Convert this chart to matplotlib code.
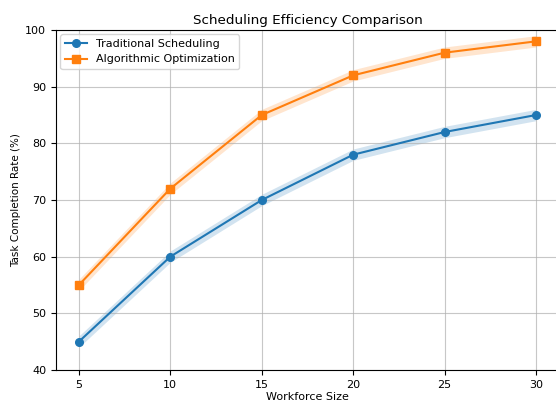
import matplotlib
matplotlib.use("Agg")
import matplotlib.pyplot as plt
import numpy as np

workforce = [5, 10, 15, 20, 25, 30]
traditional = [45, 60, 70, 78, 82, 85]
algorithmic = [55, 72, 85, 92, 96, 98]
band = 1.0

fig = plt.figure(figsize=(5.56, 4.01), dpi=100)
ax = fig.add_axes([56/556, 31/401, (559-56)/556, (370-30)/401])

ax.plot(workforce, traditional, marker='o', color='#1f77b4', label='Traditional Scheduling', markersize=5.5, linewidth=1.5)
ax.fill_between(workforce, np.array(traditional) - band, np.array(traditional) + band, color='#1f77b4', alpha=0.2, linewidth=0)
ax.plot(workforce, algorithmic, marker='s', color='#ff7f0e', label='Algorithmic Optimization', markersize=5.5, linewidth=1.5)
ax.fill_between(workforce, np.array(algorithmic) - band, np.array(algorithmic) + band, color='#ff7f0e', alpha=0.2, linewidth=0)

ax.set_xlim(3.75, 31.25)
ax.set_ylim(40, 100)
ax.set_xticks(workforce)
ax.set_title('Scheduling Efficiency Comparison', fontsize=9.7, pad=4)
ax.set_xlabel('Workforce Size', fontsize=8, labelpad=2)
ax.set_ylabel('Task Completion Rate (%)', fontsize=7.5, labelpad=3)
ax.tick_params(labelsize=8, length=3.5)
ax.grid(True, color='#b0b0b0', linewidth=0.8, alpha=0.7)
ax.legend(loc='upper left', fontsize=8, borderaxespad=0.4)

fig.savefig('out.png', dpi=100)
